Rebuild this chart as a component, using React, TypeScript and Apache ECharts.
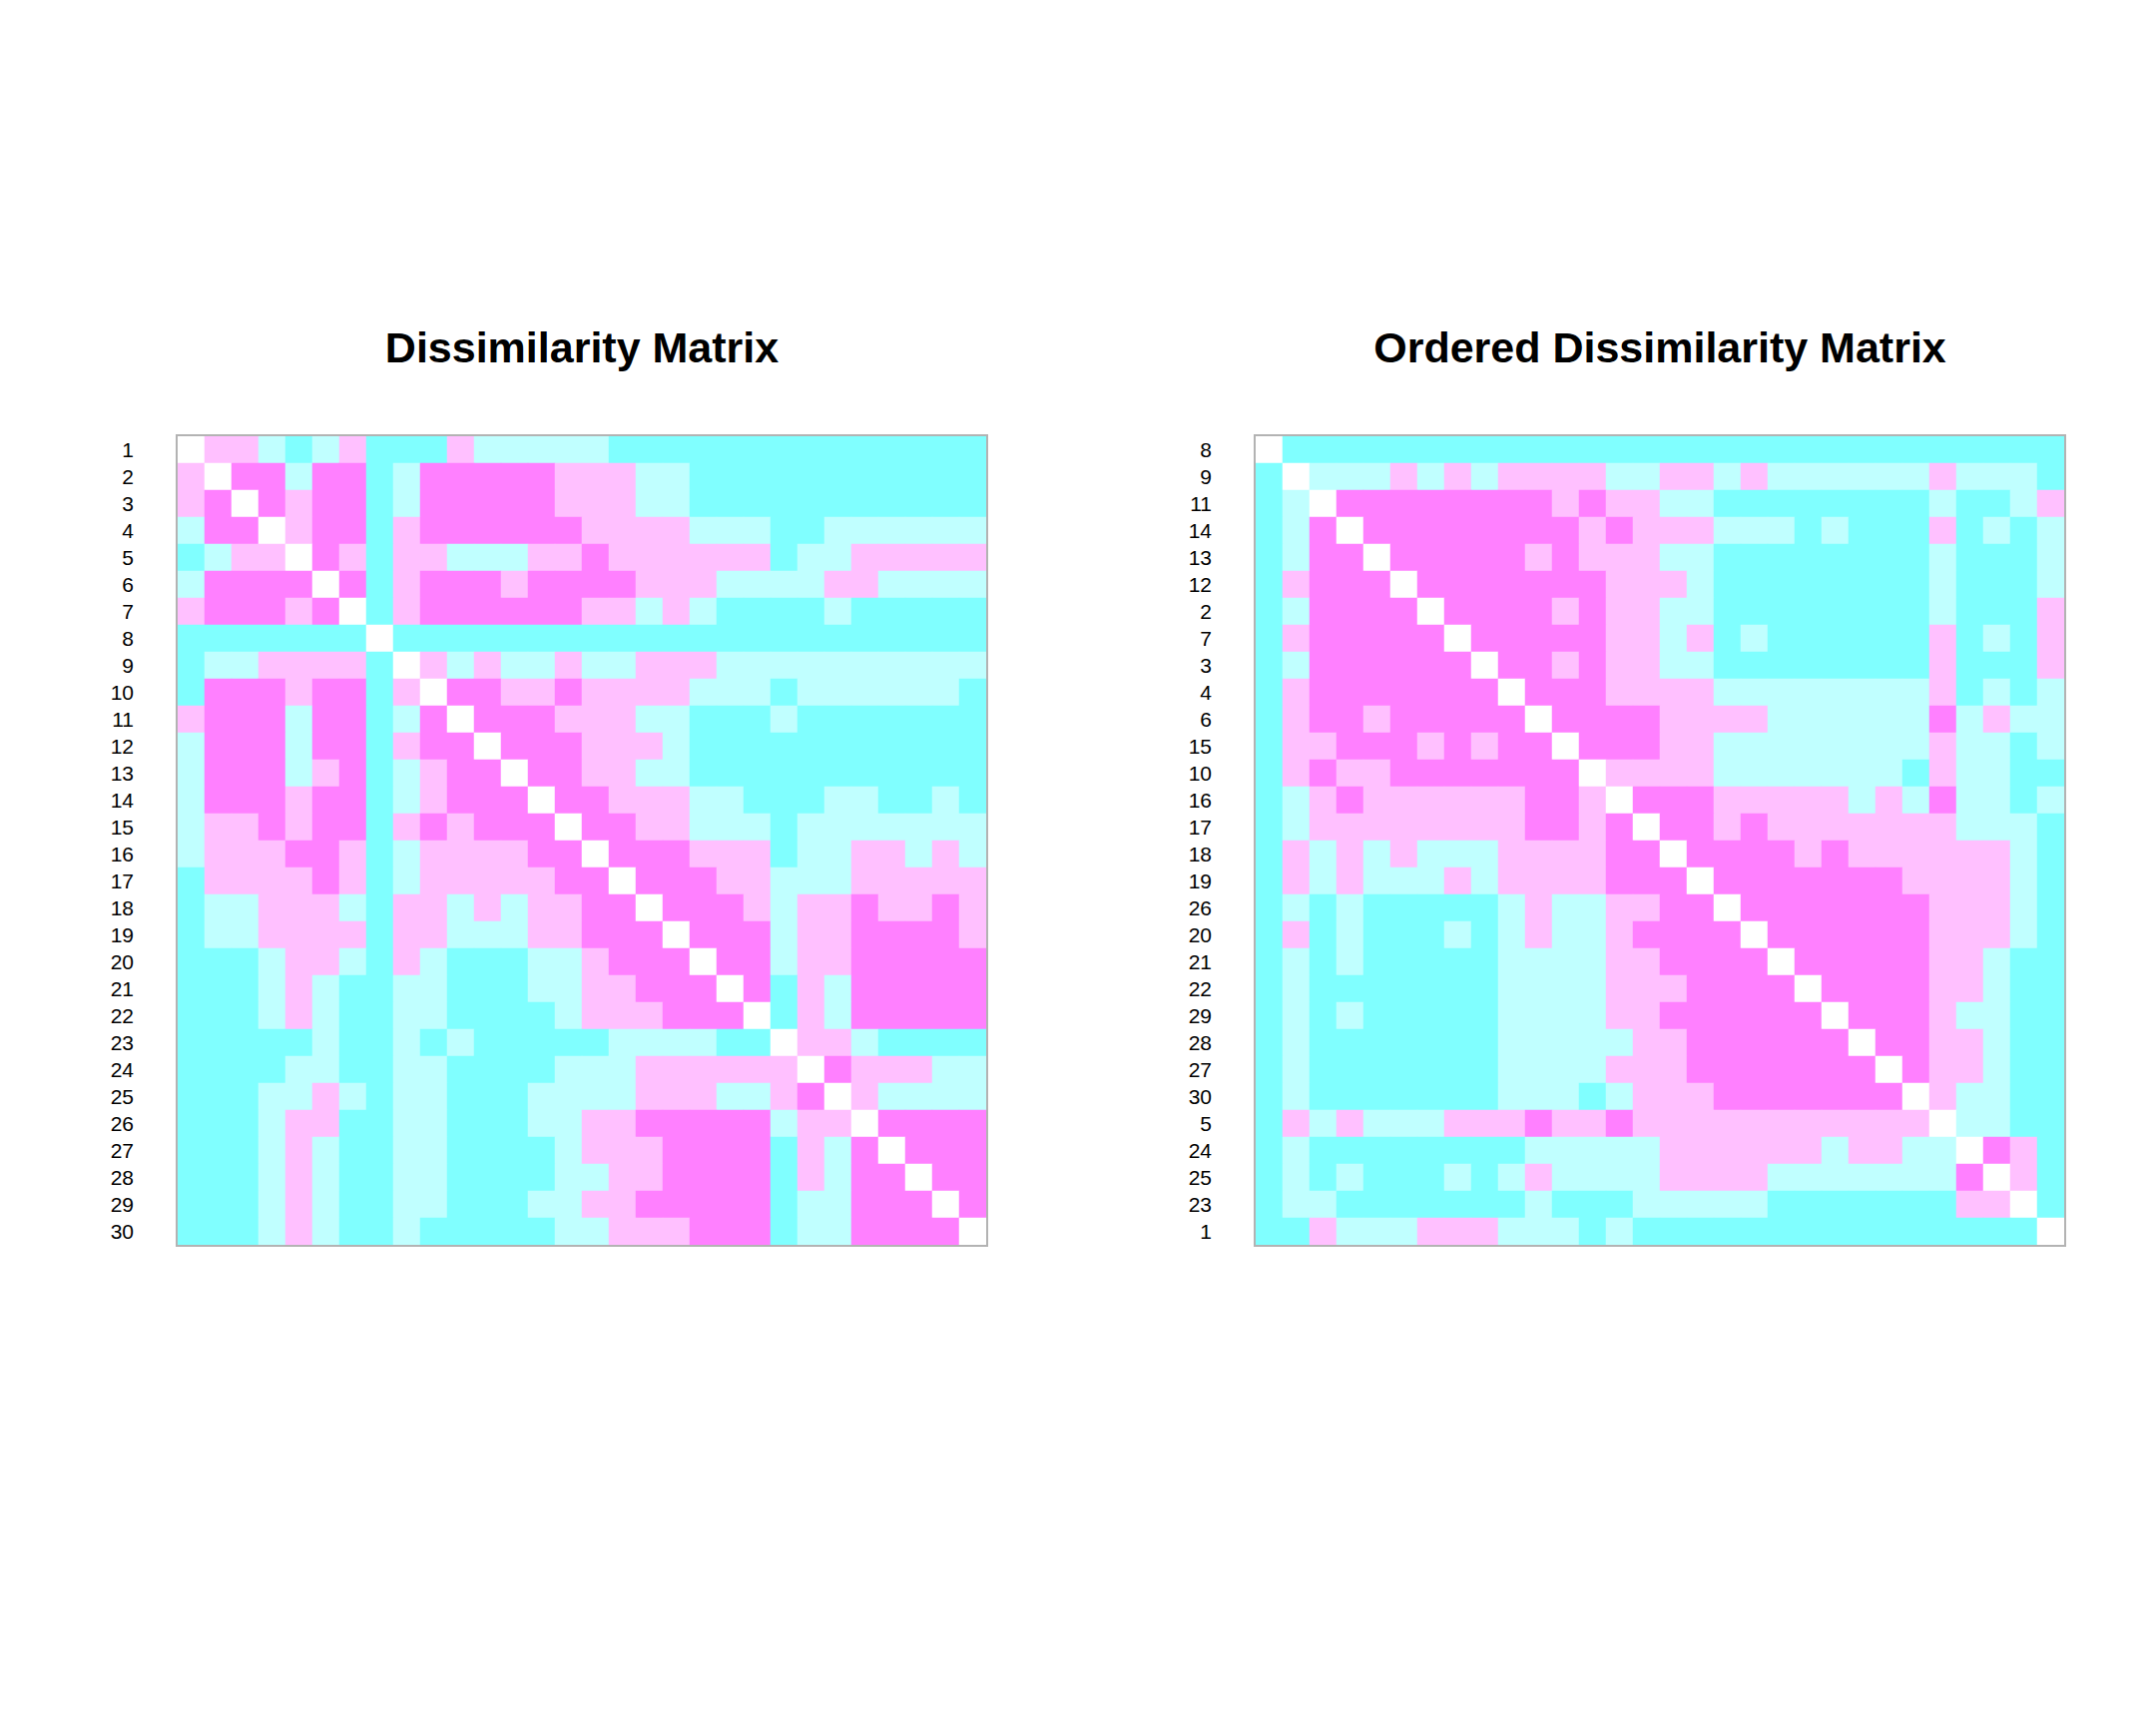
import React, { useEffect, useRef } from "react";
import * as echarts from "echarts";

// Object labels in original order (top-to-bottom / left-to-right)
const labels: string[] = Array.from({ length: 30 }, (_, i) => String(i + 1));

// Order used for the re-ordered matrix (top-to-bottom / left-to-right)
const orderedLabels: string[] = [
  "8", "9", "11", "14", "13", "12", "2", "7", "3", "4", "6", "15", "10", "16", "17",
  "18", "19", "26", "20", "21", "22", "29", "28", "27", "30", "5", "24", "25", "23", "1",
];

// Colour of each dissimilarity level: 0 = self, 1 = most similar ... 4 = most dissimilar
const levelColors: string[] = ["#FFFFFF", "#FF80FF", "#FFC0FF", "#C0FFFF", "#80FFFF"];

// Dissimilarity level of each pair (row i, column j)
const dissimilarityLevels: number[][] = [
  [0,2,2,3,4,3,2,4,4,4,2,3,3,3,3,3,4,4,4,4,4,4,4,4,4,4,4,4,4,4],
  [2,0,1,1,3,1,1,4,3,1,1,1,1,1,2,2,2,3,3,4,4,4,4,4,4,4,4,4,4,4],
  [2,1,0,1,2,1,1,4,3,1,1,1,1,1,2,2,2,3,3,4,4,4,4,4,4,4,4,4,4,4],
  [3,1,1,0,2,1,1,4,2,1,1,1,1,1,1,2,2,2,2,3,3,3,4,4,3,3,3,3,3,3],
  [4,3,2,2,0,1,2,4,2,2,3,3,3,2,2,1,2,2,2,2,2,2,4,3,3,2,2,2,2,2],
  [3,1,1,1,1,0,1,4,2,1,1,1,2,1,1,1,1,2,2,2,3,3,3,3,2,2,3,3,3,3],
  [2,1,1,1,2,1,0,4,2,1,1,1,1,1,1,2,2,3,2,3,4,4,4,4,3,4,4,4,4,4],
  [4,4,4,4,4,4,4,0,4,4,4,4,4,4,4,4,4,4,4,4,4,4,4,4,4,4,4,4,4,4],
  [4,3,3,2,2,2,2,4,0,2,3,2,3,3,2,3,3,2,2,2,3,3,3,3,3,3,3,3,3,3],
  [4,1,1,1,2,1,1,4,2,0,1,1,2,2,1,2,2,2,2,3,3,3,4,3,3,3,3,3,3,4],
  [2,1,1,1,3,1,1,4,3,1,0,1,1,1,2,2,2,3,3,4,4,4,3,4,4,4,4,4,4,4],
  [3,1,1,1,3,1,1,4,2,1,1,0,1,1,1,2,2,2,3,4,4,4,4,4,4,4,4,4,4,4],
  [3,1,1,1,3,2,1,4,3,2,1,1,0,1,1,2,2,3,3,4,4,4,4,4,4,4,4,4,4,4],
  [3,1,1,1,2,1,1,4,3,2,1,1,1,0,1,1,2,2,2,3,3,4,4,4,3,3,4,4,3,4],
  [3,2,2,1,2,1,1,4,2,1,2,1,1,1,0,1,1,2,2,3,3,3,4,3,3,3,3,3,3,3],
  [3,2,2,2,1,1,2,4,3,2,2,2,2,1,1,0,1,1,1,2,2,2,4,3,3,2,2,3,2,3],
  [4,2,2,2,2,1,2,4,3,2,2,2,2,2,1,1,0,1,1,1,2,2,3,3,3,2,2,2,2,2],
  [4,3,3,2,2,2,3,4,2,2,3,2,3,2,2,1,1,0,1,1,1,2,3,2,2,1,2,2,1,2],
  [4,3,3,2,2,2,2,4,2,2,3,3,3,2,2,1,1,1,0,1,1,1,3,2,2,1,1,1,1,2],
  [4,4,4,3,2,2,3,4,2,3,4,4,4,3,3,2,1,1,1,0,1,1,3,2,2,1,1,1,1,1],
  [4,4,4,3,2,3,4,4,3,3,4,4,4,3,3,2,2,1,1,1,0,1,4,2,3,1,1,1,1,1],
  [4,4,4,3,2,3,4,4,3,3,4,4,4,4,3,2,2,2,1,1,1,0,4,2,3,1,1,1,1,1],
  [4,4,4,4,4,3,4,4,3,4,3,4,4,4,4,4,3,3,3,3,4,4,0,2,2,3,4,4,4,4],
  [4,4,4,4,3,3,4,4,3,3,4,4,4,4,3,3,3,2,2,2,2,2,2,0,1,2,2,2,3,3],
  [4,4,4,3,3,2,3,4,3,3,4,4,4,3,3,3,3,2,2,2,3,3,2,1,0,2,3,3,3,3],
  [4,4,4,3,2,2,4,4,3,3,4,4,4,3,3,2,2,1,1,1,1,1,3,2,2,0,1,1,1,1],
  [4,4,4,3,2,3,4,4,3,3,4,4,4,4,3,2,2,2,1,1,1,1,4,2,3,1,0,1,1,1],
  [4,4,4,3,2,3,4,4,3,3,4,4,4,4,3,3,2,2,1,1,1,1,4,2,3,1,1,0,1,1],
  [4,4,4,3,2,3,4,4,3,3,4,4,4,3,3,2,2,1,1,1,1,1,4,3,3,1,1,1,0,1],
  [4,4,4,3,2,3,4,4,3,4,4,4,4,4,3,3,2,2,2,1,1,1,4,3,3,1,1,1,1,0],
];

const titles: string[] = ["Dissimilarity Matrix", "Ordered Dissimilarity Matrix"];

const FONT = '"Liberation Sans", Arial, Helvetica, sans-serif';

function buildCells(order: string[]): [number, number, number][] {
  const idx = order.map((l) => labels.indexOf(l));
  const out: [number, number, number][] = [];
  for (let r = 0; r < idx.length; r++) {
    for (let c = 0; c < idx.length; c++) {
      out.push([c, r, dissimilarityLevels[idx[r]][idx[c]]]);
    }
  }
  return out;
}

export default function App() {
  const ref = useRef<HTMLDivElement>(null);

  useEffect(() => {
    if (!ref.current) return;
    const chart = echarts.init(ref.current, undefined, { renderer: "svg" });

    const grids = [
      { left: 178, top: 437, width: 810, height: 810 },
      { left: 1258, top: 437, width: 810, height: 810 },
    ];
    const axisLabelsList = [labels, orderedLabels];

    const yAxisCommon = (data: string[], gridIndex: number) => ({
      type: "category",
      gridIndex,
      data,
      inverse: true,
      axisLine: { show: false },
      axisTick: { show: false },
      splitLine: { show: false },
      axisLabel: {
        show: true,
        interval: 0,
        fontSize: 21,
        fontFamily: FONT,
        color: "#000000",
        margin: 44,
      },
    });

    const option: any = {
      animation: false,
      backgroundColor: "#FFFFFF",
      grid: grids.map((g) => ({ ...g, show: false })),
      xAxis: axisLabelsList.map((d, i) => ({
        type: "category",
        gridIndex: i,
        data: d,
        show: false,
      })),
      yAxis: axisLabelsList.map((d, i) => yAxisCommon(d, i)),
      visualMap: {
        type: "piecewise",
        show: false,
        dimension: 2,
        seriesIndex: [0, 1],
        pieces: levelColors.map((color, k) => ({ value: k, color })),
      },
      series: axisLabelsList.map((d, i) => ({
        type: "heatmap",
        xAxisIndex: i,
        yAxisIndex: i,
        data: buildCells(d),
        itemStyle: { borderWidth: 0 },
        emphasis: { disabled: true },
        progressive: 0,
      })),
      graphic: [
        ...grids.map((g) => ({
          type: "rect",
          z: 100,
          shape: { x: g.left - 1, y: g.top - 1, width: g.width + 2, height: g.height + 2 },
          style: { fill: "none", stroke: "#B3B3B3", lineWidth: 2 },
          silent: true,
        })),
        ...grids.map((g, i) => ({
          type: "text",
          z: 100,
          x: g.left + g.width / 2,
          y: 348,
          style: {
            text: titles[i],
            font: `bold 43px ${FONT}`,
            fill: "#000000",
            align: "center",
            verticalAlign: "middle",
          },
          silent: true,
        })),
      ],
    };

    chart.setOption(option);
    return () => chart.dispose();
  }, []);

  return (
    <div
      ref={ref}
      style={{ position: "absolute", left: 0, top: 0, width: 2160, height: 1728 }}
    />
  );
}
